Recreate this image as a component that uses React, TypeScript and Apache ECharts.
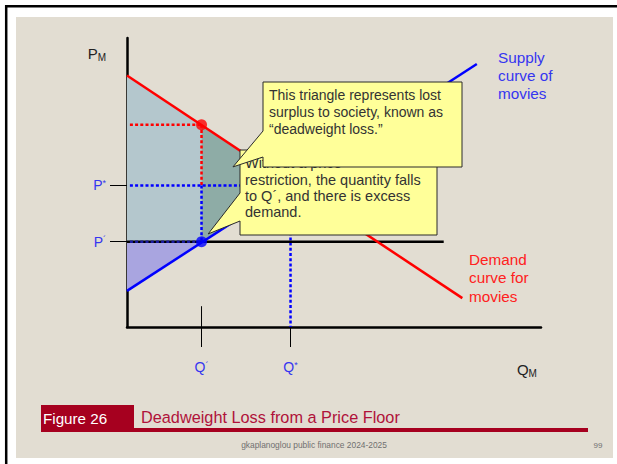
import React, { useEffect, useRef } from "react";
import * as echarts from "echarts";

// ---------- data (quantity / price units) ----------
const Q_MIN = 0;
const Q_MAX = 10;
const P_MIN = 0;
const P_MAX = 10;

const demandLine: number[][] = [[0, 8.7], [8.1, 1.0]];
const supplyLine: number[][] = [[0, 1.25], [8.45, 9.1]];

const Q_PRIME = 1.8;
const Q_STAR = 3.95;
const P_STAR = 4.9;
const P_PRIME = 2.95;
const P_DEMAND_AT_QPRIME = 7.0;
const P_SUPPLY_AT_QPRIME = 2.95;
const P_FLOOR_END_Q = 7.65;
const DOT_START_Q = 0.07;

const Q_M_LABEL = 9.66;
const P_M_LABEL = 9.48;

const tickTopP = 0.72;

const consumerArea: number[][] = [[0, 8.7], [Q_PRIME, P_DEMAND_AT_QPRIME], [Q_PRIME, P_PRIME], [0, P_PRIME]];
const deadweightArea: number[][] = [[Q_PRIME, P_DEMAND_AT_QPRIME], [Q_STAR, P_STAR], [Q_PRIME, P_SUPPLY_AT_QPRIME]];
const producerArea: number[][] = [[0, P_PRIME], [Q_PRIME, P_PRIME], [0, 1.25]];

const tip1: number[] = [2.56, 5.54];
const tip2: number[] = [1.96, 3.22];

const callout1Lines = ["This triangle represents lost", "surplus to society, known as", "\u201cdeadweight loss.\u201d"];
const callout2Lines = ["Without a price", "restriction, the quantity falls", "to Q\u00b4, and there is excess", "demand."];
const supplyLabel = ["Supply", "curve of", "movies"];
const demandLabel = ["Demand", "curve for", "movies"];
const figureLabel = "Figure 26";
const figureTitle = "Deadweight Loss from a Price Floor";
const footerText = "gkaplanoglou public finance 2024-2025";
const pageNumber = "99";

// ---------- styles ----------
const FONT = "'Liberation Sans', Arial, sans-serif";
const BLUE = "#0000ff";
const LABEL_BLUE = "#3535f0";
const RED = "#ff0000";
const BEIGE = "#e2ddd2";

const near = (a: number, b: number) => Math.abs(Number(a) - b) < 1e-6;

const seg = (data: number[][], color: string, width: number, type: any = "solid", z = 3) => ({
  type: "line",
  data,
  symbol: "none",
  showSymbol: false,
  silent: true,
  clip: false,
  z,
  lineStyle: { color, width, type, cap: "butt" },
});

const poly = (pts: number[][], color: string) => ({
  type: "custom",
  data: [[0, 0]],
  silent: true,
  z: 1,
  renderItem: (_p: any, api: any) => ({
    type: "polygon",
    shape: { points: pts.map((p) => api.coord(p)) },
    style: { fill: color },
  }),
});

const DOT = [3, 2.2];

const axisRich = {
  b: { color: LABEL_BLUE, fontSize: 14, fontFamily: FONT },
  bs: { color: LABEL_BLUE, fontSize: 9, fontFamily: FONT, verticalAlign: "top" },
  k: { color: "#222", fontSize: 15, fontFamily: FONT },
  ks: { color: "#222", fontSize: 10, fontFamily: FONT, verticalAlign: "bottom", padding: [8, 0, 0, 0] },
};

export default function App() {
  const ref = useRef<HTMLDivElement>(null);
  useEffect(() => {
    document.body.style.margin = "0";
    const chart = echarts.init(ref.current!, null, { renderer: "svg" });
    chart.setOption({
      animation: false,
      backgroundColor: "#ffffff",
      grid: { left: 127, top: 38, width: 414, height: 289 },
      xAxis: {
        type: "value",
        min: Q_MIN,
        max: Q_MAX,
        splitLine: { show: false },
        axisLine: { show: true, onZero: false, lineStyle: { color: "#000", width: 2.5 } },
        axisTick: { show: true, customValues: [Q_PRIME, Q_STAR], length: 20, lineStyle: { color: "#000", width: 1 } },
        axisLabel: {
          show: true,
          customValues: [Q_PRIME, Q_STAR, Q_M_LABEL],
          margin: 33,
          formatter: (v: number) =>
            near(v, Q_PRIME) ? "{b|Q}{bs|\u00b4}" : near(v, Q_STAR) ? "{b|Q}{bs|*}" : "{k|Q}{ks|M}",
          rich: axisRich,
        },
      },
      yAxis: {
        type: "value",
        min: P_MIN,
        max: P_MAX,
        splitLine: { show: false },
        axisLine: { show: true, onZero: false, lineStyle: { color: "#000", width: 2.5 } },
        axisTick: { show: true, customValues: [P_PRIME, P_STAR], length: 17, lineStyle: { color: "#000", width: 1 } },
        axisLabel: {
          show: true,
          customValues: [P_PRIME, P_STAR, P_M_LABEL],
          margin: 21,
          formatter: (v: number) =>
            near(v, P_PRIME) ? "{b|P}{bs|\u00b4}" : near(v, P_STAR) ? "{b|P}{bs|*}" : "{k|P}{ks|M}",
          rich: axisRich,
        },
      },
      series: [
        poly(consumerArea, "#b4c7cd"),
        poly(deadweightArea, "#8eaca6"),
        poly(producerArea, "#a9a5e0"),
        seg([[DOT_START_Q, P_DEMAND_AT_QPRIME], [Q_PRIME, P_DEMAND_AT_QPRIME]], RED, 2.5, DOT),
        seg([[Q_PRIME, P_DEMAND_AT_QPRIME], [Q_PRIME, P_STAR]], RED, 2.5, DOT),
        seg([[DOT_START_Q, P_STAR], [Q_STAR, P_STAR]], BLUE, 2.5, DOT),
        seg([[Q_PRIME, P_STAR], [Q_PRIME, P_PRIME]], BLUE, 2.5, DOT),
        seg([[Q_STAR, P_STAR], [Q_STAR, 0]], BLUE, 2.5, DOT),
        seg([[Q_PRIME, 0], [Q_PRIME, tickTopP]], "#000", 1, "solid"),
        seg([[0, P_PRIME], [P_FLOOR_END_Q, P_PRIME]], "#000", 2.5, "solid", 4),
        seg([[DOT_START_Q, P_PRIME], [Q_PRIME, P_PRIME]], "#1a1aa0", 2.5, DOT, 4),
        seg(demandLine, RED, 2.5, "solid", 5),
        seg(supplyLine, BLUE, 2.5, "solid", 5),
        {
          type: "scatter",
          data: [[Q_PRIME, P_DEMAND_AT_QPRIME]],
          symbolSize: 11,
          itemStyle: { color: RED },
          silent: true,
          z: 6,
        },
        {
          type: "scatter",
          data: [[Q_PRIME, P_SUPPLY_AT_QPRIME]],
          symbolSize: 11,
          itemStyle: { color: BLUE },
          silent: true,
          z: 6,
        },
      ],
    });

    const px = (p: number[]) => chart.convertToPixel({ gridIndex: 0 }, p) as number[];
    const t1 = px(tip1);
    const t2 = px(tip2);

    const b1 = { x0: 263, y0: 82, x1: 462, y1: 167 };
    const b2 = { x0: 240, y0: 150, x1: 437, y1: 235 };

    const calloutStyle = { fill: "#ffff99", stroke: "#2a2a2a", lineWidth: 1 };

    chart.setOption({
      graphic: [
        { type: "rect", z: -10, silent: true, shape: { x: 16, y: 17, width: 597, height: 441 }, style: { fill: BEIGE } },
        { type: "line", z: -9, silent: true, shape: { x1: 5, y1: 6.2, x2: 617, y2: 6.2 }, style: { stroke: "#000", lineWidth: 2.5 } },
        { type: "line", z: -9, silent: true, shape: { x1: 6.2, y1: 5, x2: 6.2, y2: 464 }, style: { stroke: "#000", lineWidth: 2.5 } },
        {
          type: "text", z: 5, silent: true, x: 498, y: 48,
          style: { text: supplyLabel.join("\n"), fill: LABEL_BLUE, fontSize: 15.3, fontFamily: FONT, lineHeight: 18, verticalAlign: "top" },
        },
        {
          type: "text", z: 5, silent: true, x: 469, y: 250,
          style: { text: demandLabel.join("\n"), fill: "#ff2020", fontSize: 15.3, fontFamily: FONT, lineHeight: 18.5, verticalAlign: "top" },
        },
        {
          type: "polygon", z: 10, silent: true,
          shape: { points: [[b2.x0, b2.y0], [b2.x1, b2.y0], [b2.x1, b2.y1], [b2.x0, b2.y1], [b2.x0, 221], t2, [b2.x0, 193]] },
          style: calloutStyle,
        },
        {
          type: "text", z: 11, silent: true, x: 245, y: 155,
          style: { text: callout2Lines.join("\n"), fill: "#333", fontSize: 14.5, fontFamily: FONT, lineHeight: 16.4, verticalAlign: "top" },
        },
        {
          type: "polygon", z: 12, silent: true,
          shape: { points: [[b1.x0, b1.y0], [b1.x1, b1.y0], [b1.x1, b1.y1], [b1.x0, b1.y1], [b1.x0, 157], t1, [b1.x0, 131]] },
          style: calloutStyle,
        },
        {
          type: "text", z: 13, silent: true, x: 269, y: 86,
          style: { text: callout1Lines.join("\n"), fill: "#333", fontSize: 14, fontFamily: FONT, lineHeight: 17, verticalAlign: "top" },
        },
        { type: "rect", z: 5, silent: true, shape: { x: 41, y: 405, width: 93, height: 27 }, style: { fill: "#a6001f" } },
        { type: "rect", z: 5, silent: true, shape: { x: 134, y: 428, width: 454, height: 4 }, style: { fill: "#a6001f" } },
        {
          type: "text", z: 6, silent: true, x: 43, y: 418,
          style: { text: figureLabel, fill: "#ffffff", fontSize: 15.2, fontFamily: FONT, verticalAlign: "middle" },
        },
        {
          type: "text", z: 6, silent: true, x: 141, y: 417,
          style: { text: figureTitle, fill: "#b0123a", fontSize: 16.3, fontFamily: FONT, verticalAlign: "middle" },
        },
        {
          type: "text", z: 6, silent: true, x: 314, y: 445,
          style: { text: footerText, fill: "#707070", fontSize: 8.4, fontFamily: FONT, align: "center", verticalAlign: "middle" },
        },
        {
          type: "text", z: 6, silent: true, x: 598, y: 445,
          style: { text: pageNumber, fill: "#707070", fontSize: 8, fontFamily: FONT, align: "center", verticalAlign: "middle" },
        },
      ],
    });

    return () => chart.dispose();
  }, []);
  return <div ref={ref} style={{ position: "absolute", left: 0, top: 0, width: 617, height: 464 }} />;
}
